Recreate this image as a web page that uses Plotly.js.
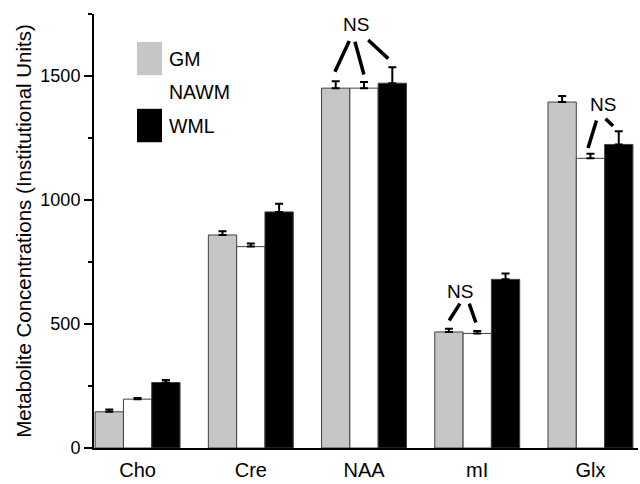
<!DOCTYPE html>
<html>
<head>
<meta charset="utf-8">
<script src="https://cdn.plot.ly/plotly-3.0.1.min.js"></script>
<style>html,body{margin:0;padding:0;background:#fff;}#chart{width:640px;height:484px;}</style>
</head>
<body>
<div id="chart"></div>
<script>
// ---- data ----
const categories = ['Cho', 'Cre', 'NAA', 'mI', 'Glx'];
const seriesNames = ['GM', 'NAWM', 'WML'];
const gmValues = [146, 859, 1451, 468, 1395];
const gmErrors = [9, 15, 28, 13, 24];
const nawmValues = [197, 812, 1451, 462, 1168];
const nawmErrors = [5, 13, 25, 10, 18];
const wmlValues = [264, 952, 1471, 680, 1224];
const wmlErrors = [10, 33, 64, 24, 53];
const yTickValues = [0, 500, 1000, 1500];
const yTickLabels = ['0', '500', '1000', '1500'];

// ---- styling ----
const FONT = 'Liberation Sans, Arial, Helvetica, sans-serif';
const colors = ['#c6c6c6', '#ffffff', '#000000'];
const valuesList = [gmValues, nawmValues, wmlValues];
const errorsList = [gmErrors, nawmErrors, wmlErrors];

const traces = seriesNames.map((name, i) => ({
  type: 'bar',
  name: name,
  x: categories,
  y: valuesList[i],
  marker: {color: colors[i], line: {color: '#404040', width: 1}},
  error_y: {
    type: 'data', symmetric: false,
    array: errorsList[i],
    arrayminus: errorsList[i].map(() => 0),
    color: '#000', thickness: 2, width: 4
  },
  showlegend: false,
  hoverinfo: 'x+y'
}));

// NS markers (decorations, in data coordinates)
const nsLabels = [
  {x: 1.93, y: 1708, text: 'NS'},
  {x: 2.847, y: 631, text: 'NS'},
  {x: 4.111, y: 1385, text: 'NS'}
];
const nsLines = [
  [1.870, 1641, 1.743, 1517],
  [1.920, 1638, 1.999, 1506],
  [2.037, 1645, 2.214, 1570],
  [2.847, 582, 2.752, 514],
  [2.929, 582, 2.988, 506],
  [4.053, 1321, 3.979, 1210],
  [4.133, 1328, 4.200, 1298]
];

const shapes = nsLines.map(l => ({
  type: 'line', xref: 'x', yref: 'y',
  x0: l[0], y0: l[1], x1: l[2], y1: l[3],
  line: {color: '#000', width: 3.5}
}));

const annotations = nsLabels.map(a => ({
  x: a.x, y: a.y, xref: 'x', yref: 'y', text: a.text,
  showarrow: false, font: {family: FONT, size: 19, color: '#000'},
  xanchor: 'center', yanchor: 'middle'
}));

// custom legend (paper coordinates)
const legX0 = 0.079, legX1 = 0.125, legTop = 0.9355, legStep = 0.0770;
seriesNames.forEach((name, i) => {
  const yTop = legTop - i * legStep;
  shapes.push({
    type: 'rect', xref: 'paper', yref: 'paper',
    x0: legX0, x1: legX1, y0: yTop - legStep, y1: yTop,
    fillcolor: colors[i], line: {width: 0}
  });
  annotations.push({
    x: legX1 + 0.009, y: yTop - legStep / 2, xref: 'paper', yref: 'paper',
    text: name, showarrow: false, xanchor: 'left', yanchor: 'middle',
    font: {family: FONT, size: 19.5, color: '#000'}
  });
});

const layout = {
  width: 640, height: 484,
  margin: {l: 94, r: 2, t: 14, b: 36},
  paper_bgcolor: '#fff', plot_bgcolor: '#fff',
  font: {family: FONT, size: 18, color: '#000'},
  barmode: 'group', bargap: 0.25, bargroupgap: 0,
  xaxis: {
    type: 'category',
    range: [-0.385, 4.42],
    showline: true, linecolor: '#000', linewidth: 2,
    ticks: '', showgrid: false, zeroline: false,
    tickfont: {family: FONT, size: 20, color: '#000'},
    ticklabelstandoff: 3
  },
  yaxis: {
    range: [0, 1750],
    showline: true, linecolor: '#000', linewidth: 2,
    ticks: 'outside', ticklen: 8, tickwidth: 2, tickcolor: '#000',
    tickvals: yTickValues, ticktext: yTickLabels,
    minor: {dtick: 250, tick0: 0, ticks: 'outside', ticklen: 4, tickwidth: 2, tickcolor: '#000'},
    showgrid: false, zeroline: false,
    tickfont: {family: FONT, size: 18, color: '#000'},
    title: {text: 'Metabolite Concentrations (Institutional Units)', font: {family: FONT, size: 20.5, color: '#000'}, standoff: 3}
  },
  shapes: shapes,
  annotations: annotations
};

Plotly.newPlot('chart', traces, layout, {displayModeBar: false, staticPlot: true});
</script>
</body>
</html>
